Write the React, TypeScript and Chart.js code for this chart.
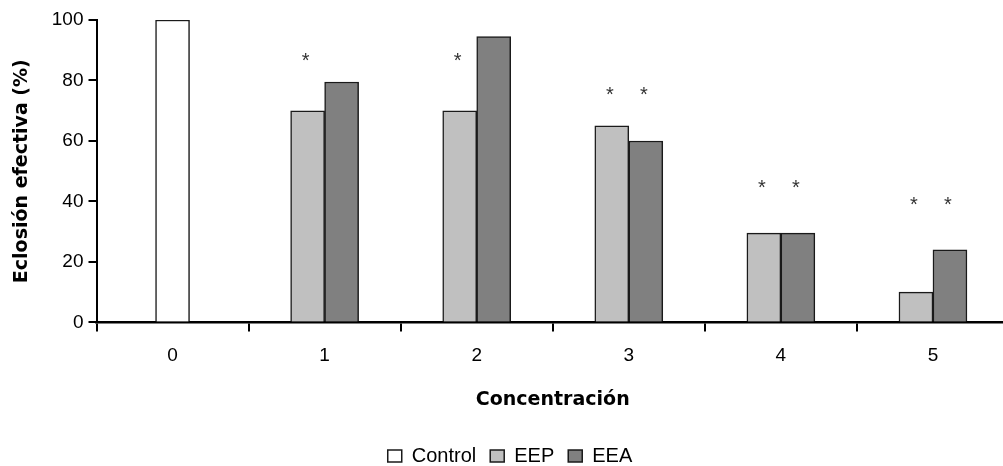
import React, { useEffect, useRef } from "react";
import { Chart, registerables } from "chart.js";

Chart.register(...registerables);

const categories = ["0", "1", "2", "3", "4", "5"];
const controlValues = [100, null, null, null, null, null];
const eepValues = [null, 70, 70, 65, 29.5, 10];
const eeaValues = [null, 79.5, 94.5, 60, 29.5, 24];
const eepStarValues = [null, 88, 88, 77, 46, 40.5];
const eeaStarValues = [null, null, null, 77, 46, 40.5];
const seriesLabels = ["Control", "EEP", "EEA"];
const yAxisTitle = "Eclosión efectiva (%)";
const xAxisTitle = "Concentración";

const ARIAL = "'Liberation Sans', Arial, sans-serif";
const WIDE_BOLD = "'DejaVu Sans', 'Liberation Sans', sans-serif";

const starPlugin = {
  id: "stars",
  afterDatasetsDraw(chart: any) {
    const ctx = chart.ctx;
    const yScale = chart.scales.y;
    const sets: [number, (number | null)[]][] = [
      [1, eepStarValues],
      [2, eeaStarValues],
    ];
    ctx.save();
    ctx.font = `20px ${ARIAL}`;
    ctx.fillStyle = "#333";
    ctx.textAlign = "center";
    ctx.textBaseline = "alphabetic";
    for (const [dsIndex, vals] of sets) {
      const meta = chart.getDatasetMeta(dsIndex);
      vals.forEach((v, i) => {
        if (v === null) return;
        const el = meta.data[i];
        if (!el) return;
        const y = yScale.getPixelForValue(v);
        ctx.fillText("*", el.x - 2, y + 11);
      });
    }
    ctx.restore();
  },
};

export default function App() {
  const canvasRef = useRef<HTMLCanvasElement | null>(null);

  useEffect(() => {
    if (!canvasRef.current) return;
    const barCommon = {
      borderColor: "#1a1a1a",
      borderWidth: 1.5,
      barThickness: 34,
      skipNull: true,
    };
    const chart = new Chart(canvasRef.current, {
      type: "bar",
      data: {
        labels: categories,
        datasets: [
          { label: seriesLabels[0], data: controlValues, backgroundColor: "#ffffff", ...barCommon },
          { label: seriesLabels[1], data: eepValues, backgroundColor: "#c0c0c0", ...barCommon },
          { label: seriesLabels[2], data: eeaValues, backgroundColor: "#808080", ...barCommon },
        ],
      },
      options: {
        animation: false,
        responsive: true,
        maintainAspectRatio: false,
        layout: { padding: { left: 11, top: 20, right: 3, bottom: 4 } },
        plugins: {
          legend: {
            display: true,
            position: "bottom",
            labels: {
              boxWidth: 14,
              boxHeight: 12,
              padding: 14,
              color: "#000",
              font: { family: ARIAL, size: 20 },
            },
          },
          tooltip: { enabled: false },
        },
        scales: {
          x: {
            grid: {
              display: true,
              drawOnChartArea: false,
              drawTicks: true,
              tickLength: 9,
              color: "#000",
              lineWidth: 2,
            },
            border: { display: true, color: "#000", width: 2.5 },
            ticks: { color: "#000", padding: 13, font: { family: ARIAL, size: 19 } },
            title: {
              display: true,
              text: xAxisTitle,
              color: "#000",
              font: { family: WIDE_BOLD, size: 19, weight: "bold" },
              padding: { top: 8, bottom: 21 },
            },
          },
          y: {
            min: 0,
            max: 100,
            ticks: { stepSize: 20, color: "#000", padding: 5, font: { family: ARIAL, size: 19 } },
            grid: {
              display: true,
              drawOnChartArea: false,
              drawTicks: true,
              tickLength: 8,
              color: "#000",
              lineWidth: 2,
            },
            border: { display: true, color: "#000", width: 2 },
            title: {
              display: true,
              text: yAxisTitle,
              color: "#000",
              font: { family: WIDE_BOLD, size: 19, weight: "bold" },
              padding: { top: 0, bottom: 13 },
            },
          },
        },
      },
      plugins: [starPlugin],
    });
    return () => chart.destroy();
  }, []);

  return (
    <div style={{ position: "fixed", left: 0, top: 0, width: 1012, height: 480, background: "#fff" }}>
      <canvas ref={canvasRef} />
    </div>
  );
}
